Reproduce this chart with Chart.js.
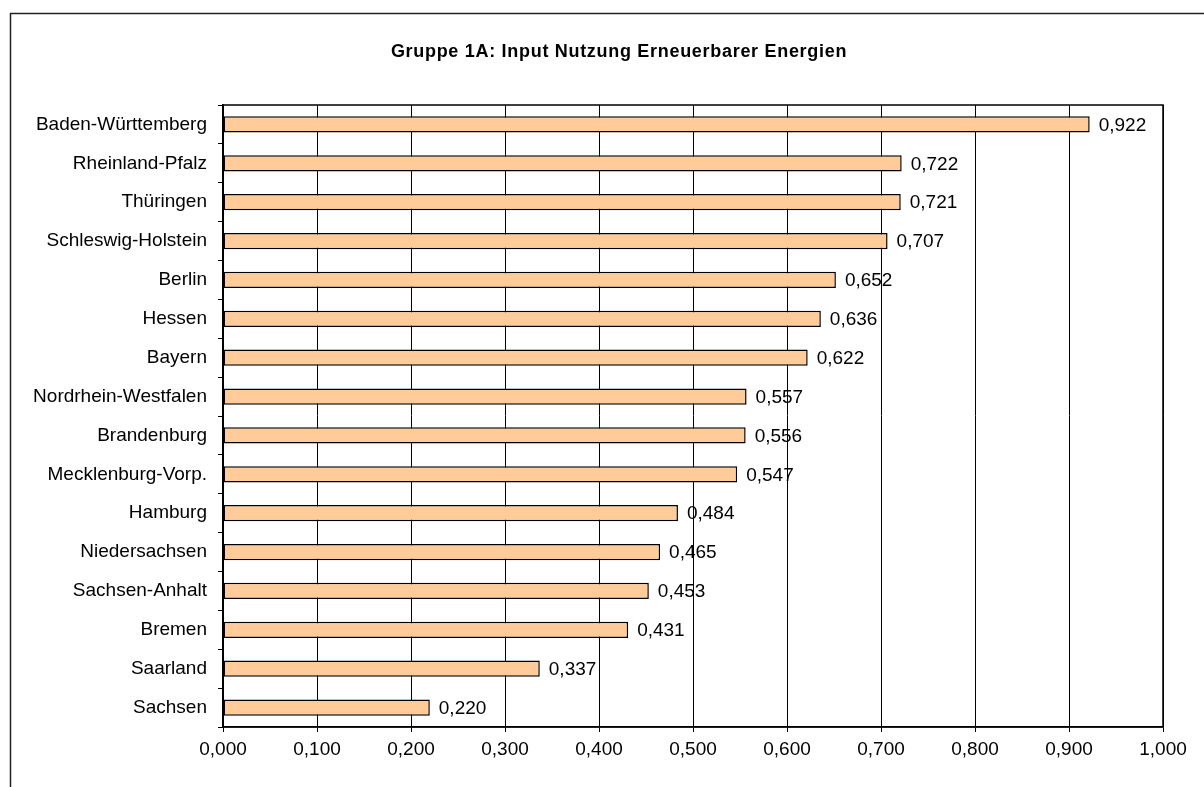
<!DOCTYPE html>
<html>
<head>
<meta charset="utf-8">
<script src="https://cdn.jsdelivr.net/npm/chart.js@4/dist/chart.umd.min.js"></script>
<style>
    html, body { margin: 0; padding: 0; background: #fff; }
    canvas { display: block; }
</style>
</head>
<body>
<canvas id="gruppeChart" width="1204" height="787"></canvas>
<script>
const chartTitle = 'Gruppe 1A: Input Nutzung Erneuerbarer Energien';
const states = [
    'Baden-Württemberg', 'Rheinland-Pfalz', 'Thüringen', 'Schleswig-Holstein',
    'Berlin', 'Hessen', 'Bayern', 'Nordrhein-Westfalen', 'Brandenburg',
    'Mecklenburg-Vorp.', 'Hamburg', 'Niedersachsen', 'Sachsen-Anhalt',
    'Bremen', 'Saarland', 'Sachsen'
];
const inputValues = [
    0.922, 0.722, 0.721, 0.707, 0.652, 0.636, 0.622, 0.557, 0.556,
    0.547, 0.484, 0.465, 0.453, 0.431, 0.337, 0.220
];
const axisMin = 0;
const axisMax = 1;
const axisStep = 0.1;

const FONT = "'Liberation Sans', Arial, sans-serif";

function fmt(v) {
    return v.toFixed(3).replace('.', ',');
}

// outer frame, title, plot outline and value labels
const decorPlugin = {
    id: 'decor',
    beforeDraw(chart) {
        const ctx = chart.ctx;
        ctx.save();
        ctx.strokeStyle = '#222';
        ctx.lineWidth = 1.5;
        ctx.strokeRect(10.5, 13.5, chart.width + 20, chart.height + 20);
        ctx.restore();

        ctx.save();
        ctx.fillStyle = '#000';
        ctx.font = 'bold 18px ' + FONT;
        ctx.letterSpacing = '0.7px';
        ctx.textAlign = 'center';
        ctx.textBaseline = 'alphabetic';
        ctx.fillText(chartTitle, chart.width / 2 + 17, 57);
        ctx.restore();
    },
    afterDatasetsDraw(chart) {
        const ctx = chart.ctx;
        const meta = chart.getDatasetMeta(0);
        ctx.save();
        ctx.fillStyle = '#000';
        ctx.font = '19px ' + FONT;
        ctx.textAlign = 'left';
        ctx.textBaseline = 'middle';
        meta.data.forEach(function (bar, i) {
            ctx.fillText(fmt(inputValues[i]), bar.x + 9, bar.y + 1);
        });
        ctx.restore();
    },
    afterDraw(chart) {
        const a = chart.chartArea;
        const ctx = chart.ctx;
        ctx.save();
        ctx.strokeStyle = '#000';
        ctx.lineWidth = 1.5;
        ctx.strokeRect(a.left, a.top, a.right - a.left, a.bottom - a.top);
        ctx.restore();
    }
};

const ctx = document.getElementById('gruppeChart').getContext('2d');

new Chart(ctx, {
    type: 'bar',
    data: {
        labels: states,
        datasets: [{
            data: inputValues,
            backgroundColor: '#FFCC99',
            borderColor: '#000',
            borderWidth: 1.5,
            borderSkipped: false,
            barPercentage: 0.42,
            categoryPercentage: 1
        }]
    },
    options: {
        indexAxis: 'y',
        responsive: false,
        animation: false,
        layout: { padding: { left: 0, right: 41, top: 105, bottom: 0 } },
        plugins: {
            legend: { display: false },
            title: { display: false },
            tooltip: { enabled: false }
        },
        scales: {
            y: {
                afterFit(scale) { scale.width = 223; },
                grid: {
                    offset: true,
                    drawOnChartArea: false,
                    drawTicks: true,
                    tickLength: 5,
                    color: '#000',
                    lineWidth: 1
                },
                border: { display: true, color: '#000', width: 1.5 },
                ticks: {
                    color: '#000',
                    padding: 11,
                    font: { family: FONT, size: 19 }
                }
            },
            x: {
                min: axisMin,
                max: axisMax,
                afterFit(scale) { scale.height = 60; },
                grid: {
                    color: '#000',
                    lineWidth: 1,
                    drawTicks: true,
                    tickLength: 5
                },
                border: { display: true, color: '#000', width: 1.5 },
                ticks: {
                    stepSize: axisStep,
                    color: '#000',
                    padding: 6,
                    maxRotation: 0,
                    font: { family: FONT, size: 19 },
                    callback: function (value) { return fmt(value); }
                }
            }
        }
    },
    plugins: [decorPlugin]
});
</script>
</body>
</html>
